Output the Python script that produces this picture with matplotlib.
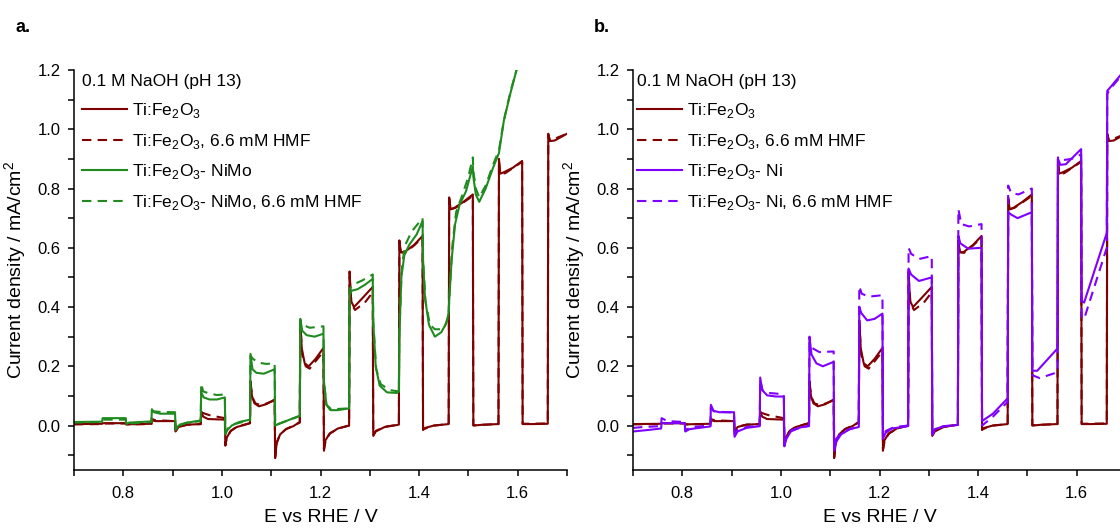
import numpy as np
import matplotlib
matplotlib.use("Agg")
import matplotlib.pyplot as plt

# ---------- data: chopped-light LSV, (E vs RHE / V, j / mA cm-2) ----------
fe2o3 = [
    (0.700, 0.005), (0.757, 0.006), (0.758, 0.008), (0.805, 0.008), (0.806, 0.004),
    (0.857, 0.006), (0.858, 0.018), (0.865, 0.015), (0.905, 0.015), (0.906, -0.020),
    (0.912, -0.005), (0.930, 0.003), (0.957, 0.005), (0.958, 0.048), (0.962, 0.030),
    (0.972, 0.022), (1.006, 0.020), (1.007, -0.068), (1.010, -0.040), (1.018, -0.018),
    (1.030, -0.005), (1.045, 0.002), (1.057, 0.008), (1.058, 0.150), (1.061, 0.100),
    (1.066, 0.075), (1.075, 0.065), (1.090, 0.072), (1.107, 0.088), (1.108, -0.110),
    (1.111, -0.060), (1.118, -0.030), (1.130, -0.012), (1.145, -0.002), (1.158, 0.012),
    (1.159, 0.355), (1.162, 0.260), (1.168, 0.210), (1.176, 0.200), (1.190, 0.225),
    (1.206, 0.262), (1.207, -0.085), (1.210, -0.050), (1.218, -0.028), (1.235, -0.010),
    (1.258, 0.000), (1.259, 0.520), (1.262, 0.420), (1.268, 0.400), (1.285, 0.430),
    (1.306, 0.468), (1.307, -0.035), (1.312, -0.020), (1.330, -0.005), (1.359, 0.003),
    (1.360, 0.625), (1.363, 0.585), (1.370, 0.585), (1.390, 0.610), (1.407, 0.640),
    (1.408, -0.015), (1.412, -0.008), (1.430, 0.000), (1.460, 0.005), (1.461, 0.770),
    (1.464, 0.730), (1.472, 0.735), (1.490, 0.755), (1.509, 0.780), (1.510, 0.000),
    (1.530, 0.003), (1.561, 0.005), (1.562, 0.900), (1.564, 0.850), (1.572, 0.855),
    (1.590, 0.870), (1.609, 0.893), (1.610, 0.005), (1.630, 0.005), (1.661, 0.006),
    (1.662, 0.985), (1.665, 0.960), (1.675, 0.962), (1.700, 0.985),
]
fe2o3_hmf = [
    (0.700, 0.004), (0.757, 0.005), (0.758, 0.007), (0.805, 0.007), (0.806, 0.004),
    (0.857, 0.005), (0.858, 0.022), (0.865, 0.018), (0.905, 0.015), (0.906, -0.018),
    (0.912, -0.004), (0.930, 0.003), (0.957, 0.005), (0.958, 0.045), (0.962, 0.042),
    (0.975, 0.035), (0.990, 0.030), (1.006, 0.025), (1.007, -0.065), (1.010, -0.040),
    (1.018, -0.018), (1.030, -0.004), (1.057, 0.008), (1.058, 0.140), (1.062, 0.095),
    (1.068, 0.075), (1.080, 0.068), (1.107, 0.085), (1.108, -0.105), (1.111, -0.058),
    (1.118, -0.030), (1.130, -0.012), (1.158, 0.010), (1.159, 0.340), (1.163, 0.240),
    (1.170, 0.200), (1.178, 0.192), (1.206, 0.250), (1.207, -0.080), (1.211, -0.048),
    (1.220, -0.025), (1.240, -0.008), (1.258, 0.000), (1.259, 0.500), (1.263, 0.410),
    (1.270, 0.390), (1.290, 0.415), (1.306, 0.450), (1.307, -0.033), (1.312, -0.018),
    (1.330, -0.004), (1.359, 0.003), (1.360, 0.620), (1.363, 0.585), (1.372, 0.583),
    (1.390, 0.608), (1.407, 0.635), (1.408, -0.013), (1.430, 0.000), (1.460, 0.005),
    (1.461, 0.765), (1.464, 0.730), (1.474, 0.735), (1.509, 0.775), (1.510, 0.001),
    (1.561, 0.005), (1.562, 0.895), (1.565, 0.848), (1.575, 0.852), (1.609, 0.890),
    (1.610, 0.006), (1.661, 0.007), (1.662, 0.980), (1.666, 0.962), (1.700, 0.985),
]
nimo = [
    (0.700, 0.012), (0.757, 0.013), (0.758, 0.025), (0.805, 0.025), (0.806, 0.005),
    (0.812, 0.010), (0.857, 0.014), (0.858, 0.055), (0.862, 0.045), (0.875, 0.040),
    (0.905, 0.040), (0.906, -0.015), (0.912, 0.000), (0.930, 0.010), (0.957, 0.017),
    (0.958, 0.112), (0.963, 0.095), (0.975, 0.088), (0.990, 0.088), (1.006, 0.095),
    (1.007, -0.030), (1.011, -0.015), (1.020, 0.000), (1.035, 0.012), (1.057, 0.020),
    (1.058, 0.242), (1.062, 0.190), (1.070, 0.178), (1.085, 0.175), (1.107, 0.190),
    (1.108, 0.000), (1.115, 0.005), (1.130, 0.015), (1.145, 0.025), (1.158, 0.033),
    (1.159, 0.360), (1.163, 0.320), (1.172, 0.305), (1.188, 0.300), (1.206, 0.310),
    (1.207, 0.150), (1.212, 0.070), (1.220, 0.052), (1.235, 0.052), (1.258, 0.058),
    (1.259, 0.440), (1.263, 0.455), (1.275, 0.460), (1.290, 0.475), (1.306, 0.495),
    (1.307, 0.350), (1.312, 0.200), (1.320, 0.135), (1.335, 0.112), (1.355, 0.110),
    (1.359, 0.115), (1.360, 0.300), (1.364, 0.500), (1.370, 0.575), (1.380, 0.610),
    (1.395, 0.645), (1.407, 0.690), (1.408, 0.560), (1.412, 0.430), (1.420, 0.340),
    (1.432, 0.300), (1.445, 0.315), (1.455, 0.345), (1.460, 0.380), (1.461, 0.420),
    (1.466, 0.560), (1.473, 0.680), (1.482, 0.745), (1.495, 0.790), (1.509, 0.875),
    (1.510, 0.840), (1.515, 0.780), (1.522, 0.755), (1.535, 0.800), (1.550, 0.870),
    (1.562, 0.920), (1.572, 1.030), (1.585, 1.120), (1.600, 1.215),
]
nimo_hmf = [
    (0.700, 0.010), (0.757, 0.012), (0.758, 0.020), (0.805, 0.020), (0.806, 0.006),
    (0.857, 0.012), (0.858, 0.050), (0.862, 0.048), (0.875, 0.046), (0.905, 0.045),
    (0.906, -0.012), (0.912, 0.002), (0.930, 0.010), (0.957, 0.015), (0.958, 0.142),
    (0.962, 0.115), (0.975, 0.108), (0.990, 0.103), (1.006, 0.105), (1.007, -0.025),
    (1.012, -0.010), (1.025, 0.005), (1.057, 0.018), (1.058, 0.235), (1.063, 0.225),
    (1.075, 0.212), (1.090, 0.208), (1.107, 0.210), (1.108, 0.002), (1.130, 0.015),
    (1.158, 0.032), (1.159, 0.350), (1.164, 0.340), (1.178, 0.330), (1.206, 0.335),
    (1.207, 0.150), (1.212, 0.070), (1.222, 0.055), (1.258, 0.058), (1.259, 0.460),
    (1.265, 0.475), (1.285, 0.490), (1.306, 0.510), (1.307, 0.350), (1.313, 0.190),
    (1.322, 0.140), (1.340, 0.120), (1.359, 0.115), (1.360, 0.320), (1.365, 0.540),
    (1.372, 0.610), (1.385, 0.655), (1.407, 0.700), (1.408, 0.560), (1.413, 0.420),
    (1.422, 0.340), (1.432, 0.325), (1.450, 0.325), (1.460, 0.370), (1.461, 0.420),
    (1.467, 0.600), (1.475, 0.720), (1.487, 0.775), (1.500, 0.840), (1.509, 0.905),
    (1.510, 0.860), (1.515, 0.800), (1.522, 0.770), (1.535, 0.810), (1.550, 0.880),
    (1.562, 0.930), (1.572, 1.030), (1.585, 1.125), (1.600, 1.215),
]
ni = [
    (0.700, -0.020), (0.730, -0.015), (0.757, -0.010), (0.758, 0.008), (0.805, 0.008),
    (0.806, -0.020), (0.815, -0.012), (0.857, -0.003), (0.858, 0.070), (0.863, 0.050),
    (0.875, 0.045), (0.905, 0.045), (0.906, -0.038), (0.912, -0.020), (0.930, -0.008),
    (0.957, -0.002), (0.958, 0.162), (0.962, 0.120), (0.972, 0.102), (0.990, 0.098),
    (1.006, 0.098), (1.007, -0.070), (1.011, -0.045), (1.020, -0.020), (1.040, -0.006),
    (1.057, -0.002), (1.058, 0.300), (1.062, 0.240), (1.072, 0.210), (1.085, 0.200),
    (1.107, 0.215), (1.108, -0.085), (1.112, -0.055), (1.122, -0.030), (1.140, -0.012),
    (1.158, -0.005), (1.159, 0.400), (1.163, 0.380), (1.175, 0.355), (1.190, 0.360),
    (1.206, 0.378), (1.207, -0.045), (1.212, -0.025), (1.225, -0.010), (1.258, -0.002),
    (1.259, 0.530), (1.264, 0.510), (1.280, 0.488), (1.306, 0.500), (1.307, -0.030),
    (1.312, -0.012), (1.330, -0.003), (1.359, 0.002), (1.360, 0.640), (1.364, 0.615),
    (1.380, 0.597), (1.407, 0.600), (1.408, 0.015), (1.430, 0.040), (1.460, 0.092),
    (1.461, 0.720), (1.467, 0.712), (1.480, 0.700), (1.509, 0.720), (1.510, 0.185),
    (1.520, 0.185), (1.561, 0.260), (1.562, 0.900), (1.567, 0.880), (1.578, 0.882),
    (1.609, 0.933), (1.610, 0.420), (1.615, 0.415), (1.661, 0.650), (1.662, 1.130),
    (1.670, 1.145), (1.690, 1.185),
]
ni_hmf = [
    (0.700, -0.008), (0.720, -0.005), (0.757, -0.002), (0.758, 0.025), (0.770, 0.015),
    (0.805, 0.012), (0.806, -0.015), (0.820, -0.005), (0.857, 0.000), (0.858, 0.062),
    (0.864, 0.048), (0.880, 0.046), (0.905, 0.044), (0.906, -0.030), (0.912, -0.015),
    (0.930, -0.005), (0.957, 0.000), (0.958, 0.152), (0.963, 0.118), (0.975, 0.110),
    (0.990, 0.108), (1.006, 0.105), (1.007, -0.062), (1.012, -0.038), (1.022, -0.015),
    (1.057, 0.000), (1.058, 0.280), (1.063, 0.262), (1.078, 0.248), (1.107, 0.250),
    (1.108, -0.075), (1.112, -0.045), (1.125, -0.020), (1.158, -0.003), (1.159, 0.470),
    (1.164, 0.445), (1.178, 0.435), (1.206, 0.440), (1.207, -0.035), (1.213, -0.018),
    (1.230, -0.005), (1.258, 0.000), (1.259, 0.600), (1.264, 0.580), (1.280, 0.562),
    (1.306, 0.572), (1.307, -0.030), (1.312, -0.012), (1.330, -0.002), (1.359, 0.002),
    (1.360, 0.730), (1.366, 0.680), (1.382, 0.672), (1.407, 0.680), (1.408, 0.000),
    (1.430, 0.030), (1.460, 0.080), (1.461, 0.810), (1.467, 0.785), (1.482, 0.780),
    (1.509, 0.800), (1.510, 0.170), (1.525, 0.160), (1.561, 0.180), (1.562, 0.905),
    (1.568, 0.895), (1.590, 0.900), (1.609, 0.915), (1.610, 0.360), (1.617, 0.370),
    (1.661, 0.600), (1.662, 1.120), (1.670, 1.140), (1.690, 1.180),
]

FE = r"Ti:Fe$_\mathregular{2}$O$_\mathregular{3}$"
labels_a = [FE, FE + ", 6.6 mM HMF", FE + "- NiMo", FE + "- NiMo, 6.6 mM HMF"]
labels_b = [FE, FE + ", 6.6 mM HMF", FE + "- Ni", FE + "- Ni, 6.6 mM HMF"]
electrolyte = "0.1 M NaOH (pH 13)"

# ---------- style ----------
plt.rcParams.update({
    "font.family": "Liberation Sans", "font.size": 12,
    "mathtext.fontset": "custom", "mathtext.rm": "Liberation Sans",
    "axes.linewidth": 1.1,
    "xtick.direction": "out", "ytick.direction": "out",
    "xtick.major.size": 4.5, "ytick.major.size": 4.5,
    "xtick.minor.size": 4.5, "ytick.minor.size": 4.5,
    "xtick.major.width": 1.1, "ytick.major.width": 1.1,
    "xtick.minor.width": 1.1, "ytick.minor.width": 1.1,
    "xtick.labelsize": 12, "ytick.labelsize": 12,
})
C_FE, C_NIMO, C_NI = "#7f0000", "#1f8b1f", "#8000ff"
DASH = (0, (4.5, 3))
LW = 1.5

W, H = 1120, 531
fig = plt.figure(figsize=(W / 100, H / 100), dpi=100)
axA = fig.add_axes([74 / W, 61 / H, 493 / W, 400 / H])
axB = fig.add_axes([633 / W, 61 / H, 493 / W, 400 / H])


def panel(ax, series, labels, colors, leg_x):
    for (pts, ls), c, lab in zip(series, colors, labels):
        e, j = np.array(pts).T
        ax.plot(e, j, color=c, lw=LW, ls=ls, label=lab)
    ax.set_xlim(0.7, 1.7)
    ax.set_ylim(-0.15, 1.2)
    ax.set_xticks([0.8, 1.0, 1.2, 1.4, 1.6])
    ax.set_xticks(np.arange(0.7, 1.71, 0.1), minor=True)
    ax.set_yticks([0.0, 0.2, 0.4, 0.6, 0.8, 1.0, 1.2])
    ax.set_yticks([-0.1, 0.1, 0.3, 0.5, 0.7, 0.9, 1.1], minor=True)
    ax.xaxis.set_major_formatter(matplotlib.ticker.FormatStrFormatter("%.1f"))
    ax.yaxis.set_major_formatter(matplotlib.ticker.FormatStrFormatter("%.1f"))
    ax.tick_params(axis="y", which="both", pad=5)
    ax.tick_params(axis="x", which="both", pad=7)
    ax.spines[["top", "right"]].set_visible(False)
    ax.set_xlabel("E vs RHE / V", fontsize=14, labelpad=6)
    ax.set_ylabel("Current density / mA/cm$^\\mathregular{2}$", fontsize=14, labelpad=6)
    leg = ax.legend(title=electrolyte, loc="upper left", bbox_to_anchor=(leg_x, 0.99),
                    frameon=False, fontsize=12.5, title_fontsize=12.5,
                    handlelength=2.6, handletextpad=0.3, labelspacing=0.68,
                    borderpad=0, borderaxespad=0, alignment="left")
    return leg


panel(axA, [(fe2o3, "-"), (fe2o3_hmf, DASH), (nimo, "-"), (nimo_hmf, DASH)],
      labels_a, [C_FE, C_FE, C_NIMO, C_NIMO], 0.016)
panel(axB, [(fe2o3, "-"), (fe2o3_hmf, DASH), (ni, "-"), (ni_hmf, DASH)],
      labels_b, [C_FE, C_FE, C_NI, C_NI], 0.008)

fig.text(15 / W, 1 - 32 / H, "a.", fontsize=13, fontweight="bold")
fig.text(594 / W, 1 - 32 / H, "b.", fontsize=13, fontweight="bold")

fig.savefig("out.png", dpi=100)
